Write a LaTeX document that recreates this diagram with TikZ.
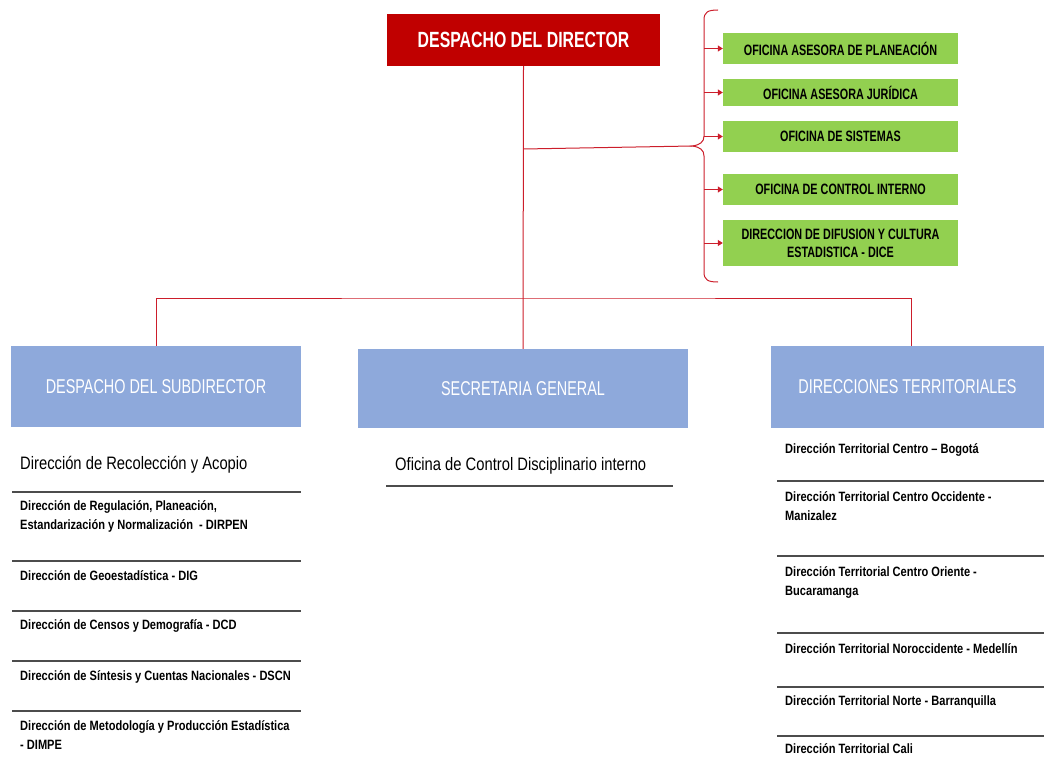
\documentclass[tikz,border=0pt]{standalone}
\usepackage{fontspec}
\setmainfont{Liberation Sans}[FakeStretch=0.82]
\newfontfamily\narrowfont{Liberation Sans}[FakeStretch=0.72]
\usetikzlibrary{positioning,arrows.meta}

\definecolor{dirred}{HTML}{C00000}
\definecolor{linered}{HTML}{CC1E2B}
\definecolor{ofigreen}{HTML}{92D050}
\definecolor{subblue}{HTML}{8EA9DB}

\tikzset{
	dirbox/.style={fill=dirred, text=white, font=\narrowfont\fontsize{22}{24}\selectfont\bfseries, minimum width=273pt, minimum height=52pt, inner sep=0pt},
	ofibox/.style={fill=ofigreen, text=black, font=\narrowfont\fontsize{15}{18}\selectfont\bfseries, align=center, minimum width=235pt, inner sep=0pt},
	subbox/.style={fill=subblue, text=white, font=\narrowfont\fontsize{20}{22}\selectfont, inner sep=0pt},
	item/.style={anchor=west, inner sep=0pt, align=left, font=\fontsize{13.5}{19}\selectfont\bfseries},
	bigitem/.style={anchor=west, inner sep=0pt, font=\fontsize{18}{20}\selectfont},
	link/.style={draw=linered, line width=1pt},
	arr/.style={link, -{Triangle[length=5pt,width=6pt]}},
	sepline/.style={draw=black!70, line width=1.6pt},
}

\begin{document}
\begin{tikzpicture}[x=1pt, y=-1pt]
	\useasboundingbox (0,0) rectangle (1044,776);

	% Top
	\node[dirbox] (dir) at (523.5,40) {DESPACHO DEL DIRECTOR};

	% Advisory offices
	\node[ofibox, minimum height=31pt] (g1) at (840.5,48.5) {OFICINA ASESORA DE PLANEACIÓN};
	\node[ofibox, minimum height=27pt] (g2) at (840.5,92.5) {OFICINA ASESORA JURÍDICA};
	\node[ofibox, minimum height=31pt] (g3) at (840.5,136.5) {OFICINA DE SISTEMAS};
	\node[ofibox, minimum height=31pt] (g4) at (840.5,189.5) {OFICINA DE CONTROL INTERNO};
	\node[ofibox, minimum height=46pt] (g5) at (840.5,243) {DIRECCION DE DIFUSION Y CULTURA\\ESTADISTICA - DICE};

	% Second level
	\node[subbox, minimum width=290pt, minimum height=81pt] (sub) at (156,386.5) {DESPACHO DEL SUBDIRECTOR};
	\node[subbox, minimum width=330pt, minimum height=79pt] (sg) at (523,388.5) {SECRETARIA GENERAL};
	\node[subbox, minimum width=273pt, minimum height=82pt] (terr) at (907.5,387) {DIRECCIONES TERRITORIALES};

	% Brace
	\coordinate (tip) at (692,146);
	\coordinate (brx) at (704,0);
	\coordinate (hub) at (523,298);
	\draw[link] (718,10) .. controls (708,10) and (704,12) .. (704,20) -- (704,136)
		.. controls (704,142) and (700,145) .. (tip)
		.. controls (700,147) and (704,150) .. (704,156) -- (704,272)
		.. controls (704,280) and (708,282) .. (718,282);

	% Connectors
	\draw[link] (dir.south) -- (sg.north);
	\draw[link] (dir.south |- 0,149) -- (tip);
	\draw[link] (sub.north) |- (hub) -| ([xshift=4pt]terr.north);
	\foreach \g in {g1,g2,g3,g4,g5}
		\draw[arr] (brx |- \g.west) -- (\g.west);

	% Subdirector list
	\node[bigitem] (l0) at (20,465) {Dirección de Recolección y Acopio};
	\node[item] (l1) at (20,516.5) {Dirección de Regulación, Planeación,\\Estandarización y Normalización\ \ - DIRPEN};
	\node[item] (l2) at (20,576) {Dirección de Geoestadística - DIG};
	\node[item] (l3) at (20,626) {Dirección de Censos y Demografía - DCD};
	\node[item] (l4) at (20,677) {Dirección de Síntesis y Cuentas Nacionales - DSCN};
	\node[item] (l5) at (20,735.5) {Dirección de Metodología y Producción Estadística\\- DIMPE};
	\foreach \y in {492,561,611,661,711}
		\draw[sepline] (12,\y) -- (301,\y);

	% Secretaria list
	\node[bigitem] (s0) at (395,466) {Oficina de Control Disciplinario interno};
	\draw[sepline] (386,486) -- (673,486);

	% Territorial list
	\node[item] (r1) at (785,450) {Dirección Territorial Centro – Bogotá};
	\node[item] (r2) at (785,506.5) {Dirección Territorial Centro Occidente -\\Manizalez};
	\node[item] (r3) at (785,582.5) {Dirección Territorial Centro Oriente -\\Bucaramanga};
	\node[item] (r4) at (785,649) {Dirección Territorial Noroccidente - Medellín};
	\node[item] (r5) at (785,702) {Dirección Territorial Norte - Barranquilla};
	\node[item] (r6) at (785,749) {Dirección Territorial Cali};
	\foreach \y in {481,556,633,687,736}
		\draw[sepline] (777,\y) -- (1044,\y);
\end{tikzpicture}
\end{document}
